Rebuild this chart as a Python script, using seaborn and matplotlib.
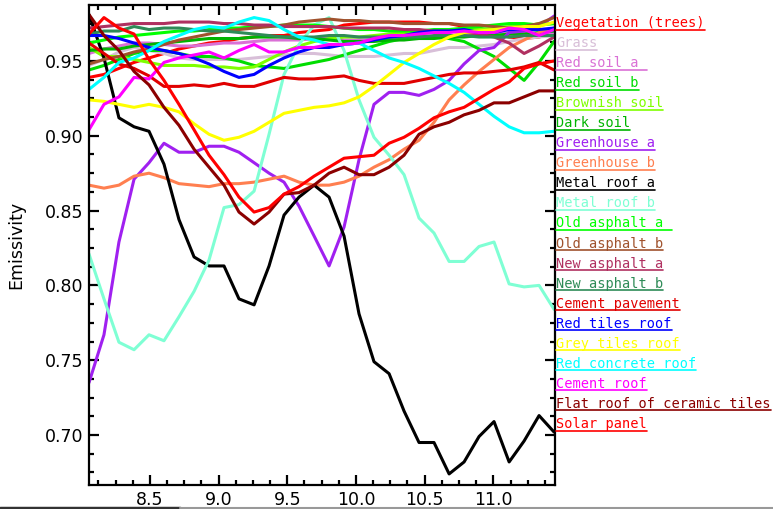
import numpy as np
import pandas as pd
import matplotlib
matplotlib.use("Agg")
import matplotlib.pyplot as plt
from matplotlib.lines import Line2D
from matplotlib.ticker import MultipleLocator
import seaborn as sns

# Longitudes de onda (um) y emisividad de cada material
wavelength = [8.056, 8.165, 8.274, 8.384, 8.493, 8.602, 8.711, 8.821, 8.930, 9.039,
              9.148, 9.258, 9.367, 9.476, 9.585, 9.695, 9.804, 9.913, 10.022, 10.131,
              10.241, 10.350, 10.459, 10.568, 10.678, 10.787, 10.896, 11.005, 11.115,
              11.224, 11.333, 11.442]

vegetation = [0.939, 0.941, 0.945, 0.949, 0.952, 0.955, 0.958, 0.960, 0.962, 0.963, 0.965, 0.966,
              0.967, 0.967, 0.969, 0.970, 0.971, 0.974, 0.975, 0.976, 0.976, 0.976, 0.976, 0.975,
              0.975, 0.973, 0.972, 0.969, 0.966, 0.965, 0.966, 0.969]
grass = [0.947, 0.951, 0.956, 0.959, 0.957, 0.955, 0.952, 0.951, 0.951, 0.951, 0.951, 0.952,
         0.953, 0.954, 0.955, 0.955, 0.954, 0.953, 0.953, 0.953, 0.954, 0.955, 0.955, 0.957,
         0.959, 0.959, 0.960, 0.961, 0.963, 0.965, 0.966, 0.967]
red_soil_a = [0.955, 0.958, 0.960, 0.962, 0.962, 0.961, 0.960, 0.960, 0.961, 0.962, 0.962, 0.963,
              0.964, 0.964, 0.964, 0.965, 0.965, 0.964, 0.964, 0.964, 0.965, 0.965, 0.966, 0.966,
              0.967, 0.967, 0.968, 0.968, 0.969, 0.969, 0.968, 0.969]
red_soil_b = [0.944, 0.947, 0.951, 0.955, 0.957, 0.957, 0.955, 0.953, 0.953, 0.952, 0.950, 0.947,
              0.946, 0.945, 0.947, 0.949, 0.951, 0.954, 0.957, 0.960, 0.963, 0.965, 0.967, 0.966,
              0.965, 0.963, 0.958, 0.953, 0.945, 0.937, 0.949, 0.963]
brownish_soil = [0.959, 0.953, 0.953, 0.951, 0.949, 0.947, 0.947, 0.947, 0.946, 0.946, 0.945, 0.946,
                 0.951, 0.956, 0.960, 0.963, 0.965, 0.966, 0.966, 0.967, 0.968, 0.969, 0.969, 0.969,
                 0.970, 0.971, 0.971, 0.972, 0.973, 0.973, 0.975, 0.975]
dark_soil = [0.957, 0.958, 0.958, 0.960, 0.961, 0.962, 0.963, 0.964, 0.965, 0.965, 0.965, 0.966,
             0.966, 0.966, 0.965, 0.965, 0.964, 0.963, 0.963, 0.963, 0.964, 0.964, 0.965, 0.965,
             0.966, 0.966, 0.967, 0.967, 0.968, 0.968, 0.969, 0.970]
greenhouse_a = [0.735, 0.767, 0.829, 0.871, 0.882, 0.895, 0.889, 0.889, 0.893, 0.893, 0.889, 0.882,
                0.875, 0.869, 0.853, 0.833, 0.813, 0.839, 0.884, 0.921, 0.929, 0.929, 0.927, 0.931,
                0.937, 0.948, 0.957, 0.959, 0.969, 0.970, 0.973, 0.980]
greenhouse_b = [0.867, 0.865, 0.867, 0.873, 0.875, 0.872, 0.868, 0.867, 0.866, 0.868, 0.868, 0.869,
                0.871, 0.873, 0.869, 0.867, 0.867, 0.869, 0.873, 0.879, 0.884, 0.891, 0.897, 0.909,
                0.924, 0.934, 0.943, 0.951, 0.959, 0.964, 0.969, 0.972]
metal_roof_a = [0.981, 0.952, 0.912, 0.906, 0.903, 0.881, 0.844, 0.819, 0.813, 0.813, 0.791, 0.787,
                0.813, 0.847, 0.859, 0.867, 0.859, 0.833, 0.781, 0.749, 0.741, 0.716, 0.695, 0.695,
                0.674, 0.682, 0.699, 0.709, 0.682, 0.696, 0.713, 0.702]
metal_roof_b = [0.821, 0.791, 0.762, 0.757, 0.767, 0.763, 0.779, 0.796, 0.817, 0.852, 0.854, 0.863,
                0.901, 0.941, 0.961, 0.974, 0.979, 0.957, 0.924, 0.899, 0.887, 0.874, 0.845, 0.835,
                0.816, 0.816, 0.826, 0.829, 0.801, 0.799, 0.800, 0.784]
old_asphalt_a = [0.962, 0.964, 0.966, 0.967, 0.968, 0.969, 0.970, 0.970, 0.971, 0.972, 0.972, 0.973,
                 0.973, 0.974, 0.974, 0.974, 0.973, 0.972, 0.971, 0.971, 0.970, 0.970, 0.970, 0.971,
                 0.971, 0.972, 0.973, 0.974, 0.975, 0.975, 0.974, 0.975]
old_asphalt_b = [0.948, 0.951, 0.953, 0.956, 0.958, 0.961, 0.964, 0.966, 0.968, 0.970, 0.971, 0.972,
                 0.973, 0.974, 0.976, 0.977, 0.978, 0.977, 0.977, 0.976, 0.976, 0.975, 0.975, 0.975,
                 0.975, 0.974, 0.974, 0.973, 0.972, 0.973, 0.975, 0.979]
new_asphalt_a = [0.972, 0.973, 0.974, 0.975, 0.975, 0.975, 0.976, 0.976, 0.976, 0.975, 0.975, 0.974,
                 0.974, 0.973, 0.973, 0.973, 0.973, 0.972, 0.972, 0.972, 0.972, 0.971, 0.971, 0.970,
                 0.970, 0.969, 0.968, 0.966, 0.962, 0.955, 0.960, 0.966]
new_asphalt_b = [0.968, 0.970, 0.970, 0.973, 0.971, 0.972, 0.972, 0.971, 0.970, 0.970, 0.969, 0.968,
                 0.967, 0.966, 0.966, 0.966, 0.967, 0.967, 0.966, 0.966, 0.966, 0.966, 0.966, 0.967,
                 0.967, 0.967, 0.966, 0.966, 0.966, 0.967, 0.967, 0.967]
cement_pavement = [0.962, 0.955, 0.948, 0.945, 0.940, 0.933, 0.933, 0.934, 0.933, 0.935, 0.933, 0.933,
                   0.936, 0.939, 0.938, 0.938, 0.939, 0.940, 0.937, 0.935, 0.935, 0.935, 0.937, 0.939,
                   0.941, 0.942, 0.942, 0.943, 0.944, 0.946, 0.949, 0.944]
red_tiles_roof = [0.967, 0.967, 0.965, 0.962, 0.959, 0.957, 0.955, 0.952, 0.948, 0.943, 0.939, 0.941,
                  0.947, 0.952, 0.956, 0.959, 0.959, 0.961, 0.962, 0.964, 0.966, 0.967, 0.969, 0.970,
                  0.970, 0.971, 0.969, 0.969, 0.971, 0.971, 0.971, 0.972]
grey_tiles_roof = [0.924, 0.923, 0.921, 0.919, 0.921, 0.919, 0.916, 0.908, 0.901, 0.897, 0.899, 0.903,
                   0.909, 0.915, 0.917, 0.919, 0.920, 0.922, 0.926, 0.933, 0.941, 0.949, 0.955, 0.961,
                   0.966, 0.969, 0.970, 0.971, 0.972, 0.973, 0.973, 0.976]
red_concrete_roof = [0.931, 0.939, 0.949, 0.952, 0.957, 0.963, 0.967, 0.971, 0.973, 0.972, 0.976, 0.979,
                     0.977, 0.971, 0.966, 0.964, 0.961, 0.961, 0.962, 0.957, 0.952, 0.949, 0.945, 0.940,
                     0.935, 0.929, 0.921, 0.913, 0.906, 0.902, 0.902, 0.903]
cement_roof = [0.904, 0.921, 0.926, 0.939, 0.938, 0.949, 0.952, 0.954, 0.956, 0.952, 0.957, 0.961,
               0.956, 0.956, 0.959, 0.959, 0.961, 0.961, 0.962, 0.965, 0.967, 0.967, 0.968, 0.969,
               0.969, 0.970, 0.969, 0.969, 0.972, 0.971, 0.967, 0.971]
flat_roof = [0.981, 0.967, 0.957, 0.943, 0.934, 0.919, 0.907, 0.891, 0.879, 0.867, 0.849, 0.841,
             0.849, 0.861, 0.862, 0.867, 0.875, 0.879, 0.874, 0.874, 0.879, 0.887, 0.901, 0.906,
             0.909, 0.914, 0.917, 0.922, 0.922, 0.926, 0.930, 0.930]
solar_panel = [0.968, 0.979, 0.972, 0.968, 0.951, 0.937, 0.921, 0.904, 0.887, 0.874, 0.859, 0.849,
               0.852, 0.861, 0.866, 0.873, 0.879, 0.885, 0.886, 0.887, 0.895, 0.899, 0.905, 0.912,
               0.916, 0.919, 0.925, 0.931, 0.936, 0.945, 0.948, 0.950]

names = ["Vegetation (trees)", "Grass", "Red soil a ", "Red soil b", "Brownish soil",
         "Dark soil", "Greenhouse a", "Greenhouse b", "Metal roof a", "Metal roof b",
         "Old asphalt a ", "Old asphalt b", "New asphalt a", "New asphalt b",
         "Cement pavement", "Red tiles roof", "Grey tiles roof", "Red concrete roof",
         "Cement roof", "Flat roof of ceramic tiles", "Solar panel"]
series = [vegetation, grass, red_soil_a, red_soil_b, brownish_soil, dark_soil,
          greenhouse_a, greenhouse_b, metal_roof_a, metal_roof_b, old_asphalt_a,
          old_asphalt_b, new_asphalt_a, new_asphalt_b, cement_pavement, red_tiles_roof,
          grey_tiles_roof, red_concrete_roof, cement_roof, flat_roof, solar_panel]
colors = ["#ff0000", "#d8bfd8", "#da70d6", "#00dd00", "#7fff00", "#00b400",
          "#a020f0", "#ff7f50", "#000000", "#7fffd4", "#00ff00", "#a0522d",
          "#b03060", "#2e8b57", "#e00000", "#0000ff", "#ffff00", "#00ffff",
          "#ff00ff", "#8b0000", "#ff0000"]

# Tabla larga para seaborn
df = pd.concat([pd.DataFrame({"Wavelength": wavelength, "Emissivity": vals, "Material": name})
                for name, vals in zip(names, series)], ignore_index=True)

sns.set_style("ticks")
plt.rcParams["font.family"] = ["DejaVu Sans"]

fig = plt.figure(figsize=(7.73, 5.09), dpi=100)
ax = fig.add_axes([89 / 773, 1 - 485 / 509, 466 / 773, 480 / 509])

sns.lineplot(data=df, x="Wavelength", y="Emissivity", hue="Material", hue_order=names,
             palette=dict(zip(names, colors)), estimator=None, sort=False,
             legend=False, linewidth=2.2, ax=ax)

ax.set_xlim(8.056, 11.449)
ax.set_ylim(0.6666, 0.9874)
ax.xaxis.set_major_locator(MultipleLocator(0.5))
ax.xaxis.set_minor_locator(MultipleLocator(0.125))
ax.yaxis.set_major_locator(MultipleLocator(0.05))
ax.yaxis.set_minor_locator(MultipleLocator(0.0125))
ax.yaxis.set_major_formatter(matplotlib.ticker.FormatStrFormatter("%.2f"))
ax.xaxis.set_major_formatter(matplotlib.ticker.FormatStrFormatter("%.1f"))
ax.tick_params(which="both", direction="in", top=True, right=True, width=1.6, colors="black",
               labelsize=12.5)
ax.tick_params(which="major", length=7, pad=4)
ax.tick_params(which="minor", length=3.5)
for sp in ax.spines.values():
    sp.set_linewidth(1.6)
    sp.set_color("black")

ax.set_xlabel("")
ax.set_ylabel("Emissivity", fontsize=12.5, color="black")
ax.yaxis.set_label_coords(-0.136, 0.5)

# Leyenda subrayada a la derecha
fig.canvas.draw()
renderer = fig.canvas.get_renderer()
W, H = 773, 509
for k, (name, c) in enumerate(zip(names, colors)):
    base = 27 + 20.05 * k
    t = fig.text(556 / W, 1 - base / H, name, color=c, fontsize=9.8,
                 family="DejaVu Sans Mono", va="baseline", ha="left")
    bb = t.get_window_extent(renderer)
    uy = 1 - (base + 2.5) / H
    fig.add_artist(Line2D([bb.x0 / W, bb.x1 / W], [uy, uy], color=c, lw=1.2,
                          transform=fig.transFigure))

# Borde inferior de la captura
fig.add_artist(Line2D([0, 180 / W], [1.5 / H, 1.5 / H], color="#333333", lw=2.5,
                      transform=fig.transFigure))
fig.add_artist(Line2D([180 / W, 1], [1.5 / H, 1.5 / H], color="#999999", lw=1.5,
                      transform=fig.transFigure))

fig.savefig("out.png", dpi=100)
